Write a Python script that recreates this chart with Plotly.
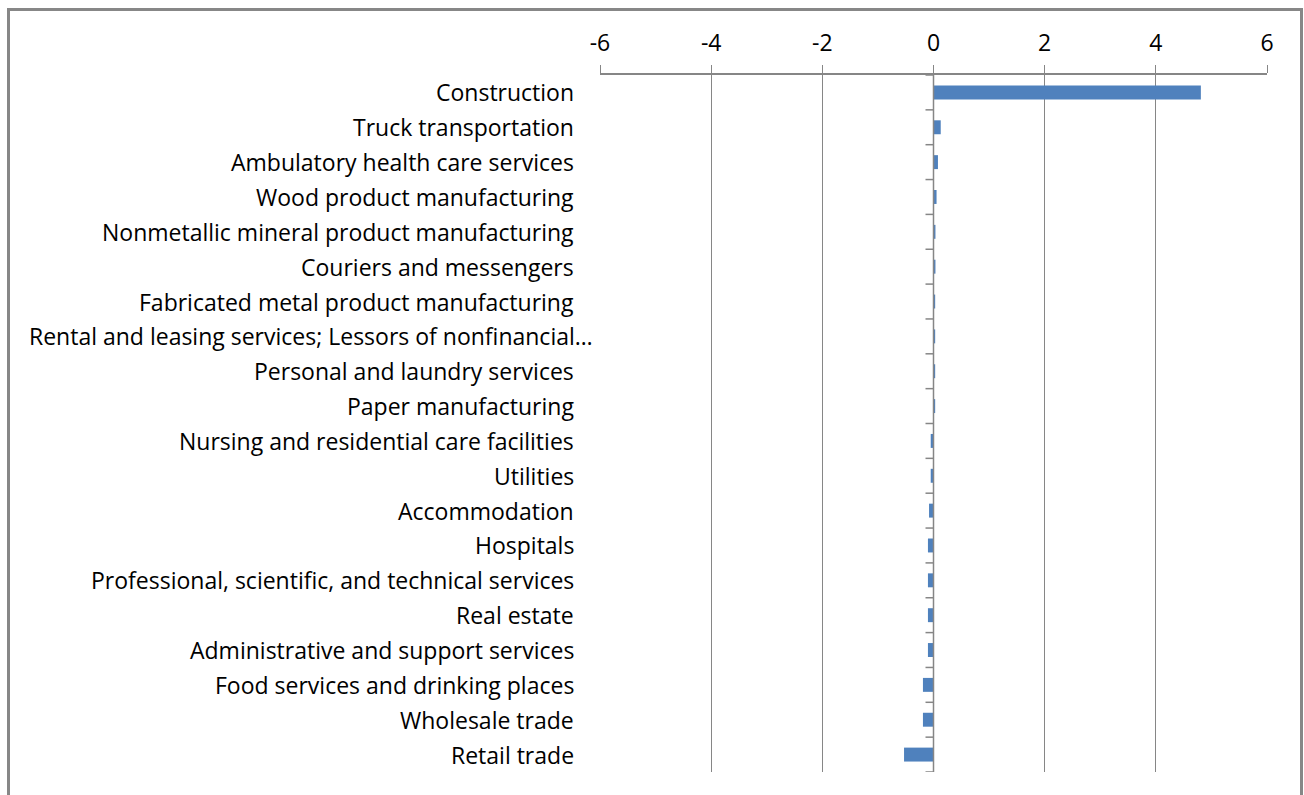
import plotly.graph_objects as go

# Industries, top to bottom
industries = [
    "Construction",
    "Truck transportation",
    "Ambulatory health care services",
    "Wood product manufacturing",
    "Nonmetallic mineral product manufacturing",
    "Couriers and messengers",
    "Fabricated metal product manufacturing",
    "Rental and leasing services; Lessors of nonfinancial…",
    "Personal and laundry services",
    "Paper manufacturing",
    "Nursing and residential care facilities",
    "Utilities",
    "Accommodation",
    "Hospitals",
    "Professional, scientific, and technical services",
    "Real estate",
    "Administrative and support services",
    "Food services and drinking places",
    "Wholesale trade",
    "Retail trade",
]

values = [
    4.81, 0.13, 0.08, 0.055, 0.035, 0.035, 0.03, 0.03, 0.03, 0.03,
    -0.05, -0.05, -0.08, -0.1, -0.1, -0.1, -0.1, -0.19, -0.19, -0.53,
]

x_ticks = [-6, -4, -2, 0, 2, 4, 6]

W, H = 1304, 795
L, R, T, B = 600, 37, 75, 23
pw, ph = W - L - R, H - T - B

AXIS_GRAY = "#868686"
BAR_BLUE = "#4F81BD"
FONT = "Open Sans"
FSIZE = 23

fig = go.Figure(
    go.Bar(
        x=values,
        y=industries,
        orientation="h",
        marker=dict(color=BAR_BLUE, line=dict(width=0)),
        width=0.4,
    )
)

# Category labels on the left side of the plot area
annotations = []
for name in industries:
    shift = -6 if name.startswith("Rental") else -25
    annotations.append(
        dict(
            x=0, xref="paper", y=name, yref="y",
            text=name, showarrow=False, xanchor="right", yanchor="middle",
            xshift=shift, borderpad=0,
            font=dict(family=FONT, size=FSIZE, color="#000000"),
        )
    )

shapes = []
# Vertical category axis along zero
shapes.append(dict(
    type="line", xref="x", yref="y", x0=0, x1=0,
    y0=-0.5, y1=len(industries) - 0.5,
    line=dict(color=AXIS_GRAY, width=1.5), layer="above",
))
# Tick marks at category boundaries
for k in range(len(industries) + 1):
    shapes.append(dict(
        type="line", xref="x", yref="y", xsizemode="pixel", xanchor=0,
        x0=-8, x1=0, y0=k - 0.5, y1=k - 0.5,
        line=dict(color=AXIS_GRAY, width=1.5), layer="above",
    ))

# Chart-area border
bx0 = (8.5 - L) / pw
bx1 = (1301.5 - L) / pw
by1 = 1 + (T - 9.5) / ph
shapes.append(dict(
    type="rect", xref="paper", yref="paper",
    x0=bx0, x1=bx1, y0=-0.2, y1=by1,
    line=dict(color="#878787", width=3), fillcolor="rgba(0,0,0,0)",
))

fig.update_layout(
    width=W, height=H,
    margin=dict(l=L, r=R, t=T, b=B, pad=0),
    paper_bgcolor="white", plot_bgcolor="white",
    showlegend=False,
    bargap=0.6,
    annotations=annotations,
    shapes=shapes,
    xaxis=dict(
        side="top",
        range=[-6, 6],
        tickvals=x_ticks,
        ticktext=[str(v) for v in x_ticks],
        showgrid=True, gridcolor=AXIS_GRAY, gridwidth=1.3,
        zeroline=False,
        showline=True, linecolor=AXIS_GRAY, linewidth=1.5,
        ticks="outside", ticklen=8, tickcolor=AXIS_GRAY, tickwidth=1.3,
        tickfont=dict(family=FONT, size=FSIZE, color="#000000"),
        ticklabelstandoff=5,
        fixedrange=True,
    ),
    yaxis=dict(
        categoryorder="array",
        categoryarray=industries,
        range=[len(industries) - 0.5, -0.5],
        showticklabels=False,
        showgrid=False, zeroline=False, showline=False, ticks="",
        fixedrange=True,
    ),
)

fig.write_html("out.html")
